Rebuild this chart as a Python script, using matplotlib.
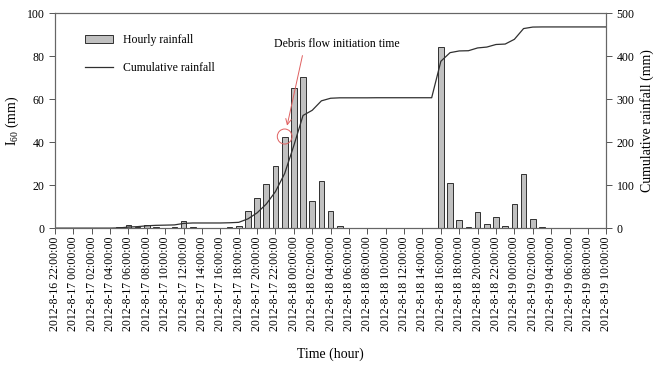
import numpy as np
import pandas as pd
import matplotlib
matplotlib.use('Agg')
import matplotlib.pyplot as plt
import matplotlib.dates as mdates
from matplotlib.patches import Ellipse

plt.rcParams['font.family'] = ['Liberation Serif', 'DejaVu Serif']
plt.rcParams['mathtext.fontset'] = 'custom'
plt.rcParams['mathtext.rm'] = 'Liberation Serif'
plt.rcParams['mathtext.it'] = 'Liberation Serif:italic'

## data
times = pd.date_range('2012-08-16 22:00', '2012-08-19 10:00', freq='h')

# hourly rainfall I60 (mm), one value per hour
hourly = [0, 0, 0, 0, 0, 0, 0, 0.4, 1.5, 0.7,
          1.5, 0.7, 0, 0.3, 3.5, 0.3, 0, 0, 0, 0.5,
          1.2, 8.2, 14.1, 20.3, 28.8, 42.6, 65.1, 70.1, 12.4, 21.9,
          8.1, 1.1, 0, 0, 0, 0.2, 0, 0, 0, 0,
          0, 0, 84.2, 20.8, 3.7, 0.3, 7.3, 2.0, 5.3, 1.2,
          11.3, 25.3, 4.3, 0.3, 0, 0, 0, 0, 0, 0,
          0]

# cumulative rainfall (mm) as drawn by the line
cumulative = [0, 0, 0, 0, 0, 0, 0, 0.5, 2.5, 3.5,
              5.5, 6.5, 7, 7.5, 11, 12, 12, 12, 12, 12.5,
              13.5, 21.5, 35.5, 56, 85, 127, 192, 262, 274, 296,
              302, 303, 303, 303, 303, 303.2, 303.2, 303.2, 303.2, 303.2,
              303.2, 303.2, 388, 408, 412, 412.5, 419, 421, 427, 428,
              439, 464, 467.5, 467.8, 467.8, 467.8, 467.8, 467.8, 467.8, 467.8,
              467.8]

tick_times = pd.date_range('2012-08-16 22:00', '2012-08-19 10:00', freq='2h')
tick_labels = [f"{t.year}-{t.month}-{t.day} {t:%H:%M:%S}" for t in tick_times]

event_time = pd.Timestamp('2012-08-17 23:00')
event_value = 42.6

## plot
fig = plt.figure(figsize=(6.54, 3.74), dpi=100)
ax = fig.add_axes([0.084, 0.390, 0.843, 0.575])
ax2 = ax.twinx()

ax.bar(times, hourly, width=0.62 / 24, color='#c0c0c0', edgecolor='#303030',
       linewidth=0.7, label='Hourly rainfall', zorder=2)
ax2.plot(times, cumulative, color='#303030', linewidth=0.9, label='Cumulative rainfall')

ax.set_xlim(times[0], times[-1])
ax.set_ylim(0, 100)
ax2.set_ylim(0, 500)
ax.set_yticks([0, 20, 40, 60, 80, 100])
ax2.set_yticks([0, 100, 200, 300, 400, 500])
ax.set_xticks(tick_times)
ax.set_xticklabels(tick_labels, rotation=90, fontsize=8.5)

for a in (ax, ax2):
    a.tick_params(direction='out', length=4, width=0.7, color='#555555', labelsize=8.5)
    for s in a.spines.values():
        s.set_color('#666666')
        s.set_linewidth(0.8)
ax.tick_params(axis='x', labelsize=8.5, pad=2)

ax.set_ylabel(r'$\mathrm{I}_{60}$ (mm)', fontsize=10, labelpad=4)
ax2.set_ylabel('Cumulative rainfall (mm)', fontsize=10, labelpad=4)
ax.set_xlabel('Time (hour)', fontsize=10, labelpad=12)

# debris flow annotation
ex = mdates.date2num(event_time)
ax.add_patch(Ellipse((ex, event_value), width=1.6 / 24, height=7.0,
                     fill=False, edgecolor='#e06060', linewidth=0.7, zorder=4))
ax.annotate('', xy=(ex + 0.2 / 24, event_value + 3.8),
            xytext=(ex + 2.0 / 24, 81.5),
            arrowprops=dict(arrowstyle='->', color='#e06060', lw=0.7))
ax.text(mdates.date2num(pd.Timestamp('2012-08-17 21:50')), 85.5,
        'Debris flow initiation time', fontsize=8.5, va='center', ha='left')

h1, l1 = ax.get_legend_handles_labels()
h2, l2 = ax2.get_legend_handles_labels()
ax.legend(h1 + h2, l1 + l2, loc='upper left', bbox_to_anchor=(0.035, 0.95),
          frameon=False, fontsize=8.5, handlelength=2.4, labelspacing=1.3)

fig.savefig('out.png', dpi=100)
